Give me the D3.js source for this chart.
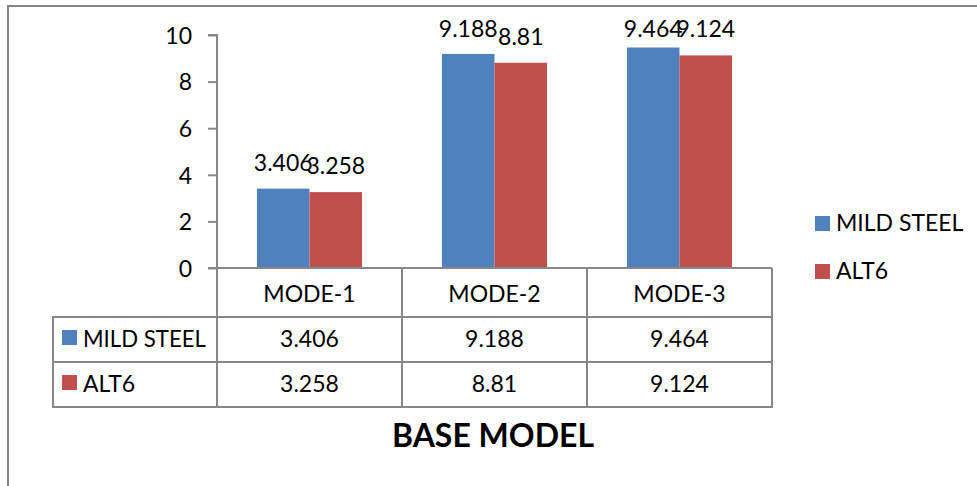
<!DOCTYPE html>
<html>
<head>
<meta charset="utf-8">
<script src="https://cdn.jsdelivr.net/npm/d3@7/dist/d3.min.js"></script>
<style>
  html, body { margin: 0; padding: 0; background: #fff; }
  svg { display: block; font-family: Lato, "Open Sans", sans-serif; }
</style>
</head>
<body>
<svg id="chart" width="977" height="486"></svg>
<script>
// Base model comparison: mild steel vs ALT6 over three modes
const categories = ["MODE-1", "MODE-2", "MODE-3"];
const seriesNames = ["MILD STEEL", "ALT6"];
const mildSteel = [3.406, 9.188, 9.464];
const alt6 = [3.258, 8.81, 9.124];
const yTicks = [0, 2, 4, 6, 8, 10];
const title = "BASE MODEL";

const seriesValues = [mildSteel, alt6];
const colors = ["#4F81BD", "#C0504D"];
const gridColor = "#878787";
const fontSize = 23;

const svg = d3.select("#chart");

// outer chart frame
svg.append("rect")
  .attr("x", 8).attr("y", 6)
  .attr("width", 990).attr("height", 500)
  .attr("fill", "none").attr("stroke", gridColor).attr("stroke-width", 2);

const plotLeft = 217, plotRight = 772, plotTop = 35, plotBottom = 268;

const x = d3.scaleBand().domain(categories).range([plotLeft, plotRight]).paddingInner(0).paddingOuter(0);
const xs = d3.scaleBand().domain(seriesNames).range([0, x.bandwidth()]).paddingOuter(0.76).paddingInner(0);
const y = d3.scaleLinear().domain([0, 10]).range([plotBottom, plotTop]);

// y axis
const yAxis = d3.axisLeft(y).tickValues(yTicks).tickSize(9).tickPadding(16).tickFormat(d3.format("d"));
const gy = svg.append("g").attr("transform", `translate(${plotLeft},0)`).call(yAxis);
gy.select(".domain").attr("stroke", gridColor).attr("stroke-width", 2).attr("d", `M-9,${plotTop}H0V${plotBottom}`);
gy.selectAll(".tick line").attr("stroke", gridColor).attr("stroke-width", 2);
gy.selectAll(".tick text").attr("font-size", fontSize).attr("fill", "#000").attr("font-family", "Lato, sans-serif").attr("dy", "0.36em");

// bars
const groups = svg.append("g").selectAll("g")
  .data(categories).join("g")
  .attr("transform", d => `translate(${x(d)},0)`);

seriesNames.forEach((s, si) => {
  groups.append("rect")
    .attr("x", xs(s))
    .attr("width", xs.bandwidth())
    .attr("y", (d, i) => y(seriesValues[si][i]))
    .attr("height", (d, i) => plotBottom - y(seriesValues[si][i]))
    .attr("fill", colors[si]);
});

// value labels above bars (kept inside the top of the chart area)
seriesNames.forEach((s, si) => {
  groups.append("text")
    .attr("x", xs(s) + xs.bandwidth() / 2)
    .attr("y", (d, i) => Math.max(y(seriesValues[si][i]) - 18, 37))
    .attr("text-anchor", "middle")
    .attr("font-size", fontSize)
    .attr("fill", "#000")
    .text((d, i) => String(seriesValues[si][i]));
});

// x axis line
svg.append("line")
  .attr("x1", plotLeft - 9).attr("x2", plotRight)
  .attr("y1", plotBottom).attr("y2", plotBottom)
  .attr("stroke", gridColor).attr("stroke-width", 2);

// data table
const tableLeft = 53;
const rowEdges = [plotBottom, 317, 362, 407];
const table = svg.append("g");
const lineStyle = sel => sel.attr("stroke", gridColor).attr("stroke-width", 2);

// vertical column lines
const colEdges = categories.map(c => x(c)).concat([plotRight]);
colEdges.forEach(cx => {
  table.append("line").attr("x1", cx).attr("x2", cx).attr("y1", rowEdges[0]).attr("y2", rowEdges[3]).call(lineStyle);
});
table.append("line").attr("x1", tableLeft).attr("x2", tableLeft).attr("y1", rowEdges[1]).attr("y2", rowEdges[3]).call(lineStyle);
// horizontal row lines
[1, 2, 3].forEach(r => {
  table.append("line").attr("x1", tableLeft - 1).attr("x2", plotRight + 1).attr("y1", rowEdges[r]).attr("y2", rowEdges[r]).call(lineStyle);
});

// header labels
table.selectAll("text.cat").data(categories).join("text")
  .attr("class", "cat")
  .attr("x", d => x(d) + x.bandwidth() / 2)
  .attr("y", 302)
  .attr("text-anchor", "middle")
  .attr("font-size", fontSize)
  .text(d => d);

// rows
const rowBaselines = [347, 392];
seriesNames.forEach((s, si) => {
  table.append("rect")
    .attr("x", 62).attr("y", rowBaselines[si] - 17)
    .attr("width", 15).attr("height", 15)
    .attr("fill", colors[si]);
  table.append("text")
    .attr("x", 83).attr("y", rowBaselines[si])
    .attr("font-size", fontSize)
    .attr("textLength", 123).attr("lengthAdjust", "spacingAndGlyphs")
    .text(s)
    .attr("textLength", s.length > 5 ? 123 : null);
  table.selectAll(null).data(categories).join("text")
    .attr("x", d => x(d) + x.bandwidth() / 2)
    .attr("y", rowBaselines[si])
    .attr("text-anchor", "middle")
    .attr("font-size", fontSize)
    .text((d, i) => String(seriesValues[si][i]));
});

// legend
const legend = svg.append("g");
const legendBaselines = [231, 279];
seriesNames.forEach((s, si) => {
  legend.append("rect")
    .attr("x", 815).attr("y", legendBaselines[si] - 15)
    .attr("width", 15).attr("height", 15)
    .attr("fill", colors[si]);
  legend.append("text")
    .attr("x", 836).attr("y", legendBaselines[si])
    .attr("font-size", fontSize)
    .text(s);
});

// title
svg.append("text")
  .attr("x", 493).attr("y", 447)
  .attr("text-anchor", "middle")
  .attr("font-size", 32)
  .attr("font-weight", "bold")
  .text(title);
</script>
</body>
</html>
